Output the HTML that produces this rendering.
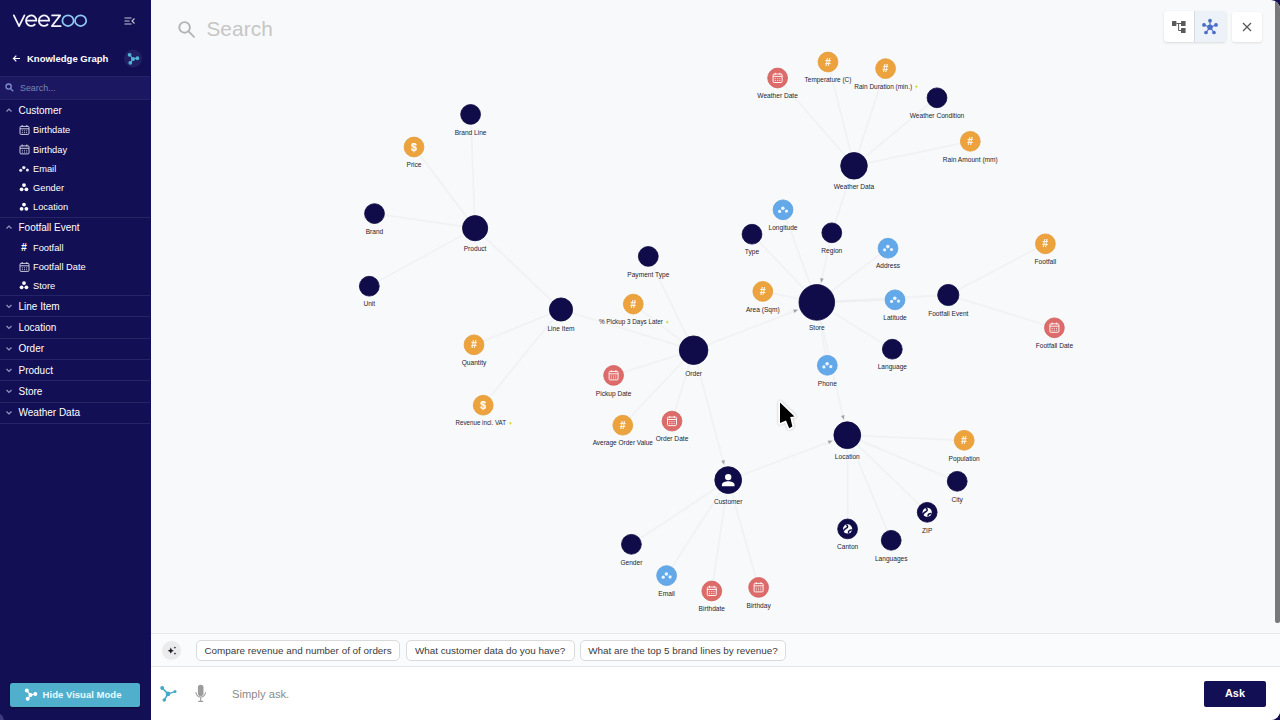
<!DOCTYPE html>
<html><head><meta charset="utf-8"><style>
*{box-sizing:border-box;margin:0;padding:0}
html,body{width:1280px;height:720px;overflow:hidden;background:#130f54;font-family:"Liberation Sans",sans-serif;}
#side{position:absolute;left:0;top:0;width:151px;height:720px;background:#130f54;color:#fff}
#main{position:absolute;left:151px;top:0;width:1129px;height:720px;background:#f8f9fb;border-radius:0 9px 9px 0;overflow:hidden}
.abs{position:absolute}
.grp{position:absolute;left:18.5px;font-size:10px;color:#fff;white-space:nowrap;line-height:12px}
.itm{position:absolute;left:33px;font-size:9.3px;color:#fff;white-space:nowrap;line-height:12px}
.div{position:absolute;left:0;width:150px;height:1px;background:#272466}
.chip{position:absolute;top:640px;height:21px;border:1px solid #d9dadd;border-radius:5px;background:#fff;font-size:9.9px;color:#3a3a3e;line-height:19.4px;text-align:center;white-space:nowrap}
svg{position:absolute;left:0;top:0;overflow:visible}
</style></head><body>
<div id="side">
<svg width="151" height="720"><g fill="none" stroke="#f4f4ff" stroke-width="1.75" stroke-linecap="round" stroke-linejoin="round"><path d="M13.8 15.3L19.1 26.1L24.4 15.3"/><path d="M26.1 20.7H36.4A5.2 5.3 0 1 0 34.8 24.5"/><path d="M38.9 20.7H49.2A5.2 5.3 0 1 0 47.6 24.5"/><path d="M52.1 15.4H60.2L51.9 26H60.7"/><g stroke="#8ec8f2"><ellipse cx="68" cy="20.7" rx="5.6" ry="5.35"/><ellipse cx="80.6" cy="20.7" rx="5.6" ry="5.35"/></g></g></svg>
<svg width="151" height="720"><g stroke="#c8c8dc" stroke-width="1.1" fill="none"><path d="M124.5 18h7M124.5 21h5M124.5 24h7"/><path d="M134.5 18.5l-2.5 2.5 2.5 2.5"/></g><g stroke="#fff" stroke-width="1.2" fill="none"><path d="M13.5 58.5h6.5M16.3 55.7l-2.8 2.8 2.8 2.8"/></g><circle cx="133" cy="58.5" r="9" fill="#221f63"/><g stroke="#4fb4d6" stroke-width="1.2" fill="#4fb4d6"><path d="M133 59l-3.2-4M133 59l-2.5 3.6M133 59l4.3-.8" fill="none"/><circle cx="133" cy="59" r="1.5"/><circle cx="129.6" cy="54.8" r="1.3"/><circle cx="130.3" cy="62.8" r="1.3"/><circle cx="137.4" cy="58.2" r="1.3"/></g></svg>
<div class="abs" style="left:27px;top:52px;font-size:9.5px;font-weight:bold;line-height:13px;color:#fff;white-space:nowrap">Knowledge Graph</div>
<div class="abs" style="left:0;top:76px;width:150px;height:24px;background:#1b1861;border-top:1px solid #262369;border-bottom:1px solid #262369"></div>
<svg width="151" height="720"><g stroke="#7f8fd0" stroke-width="1.3" fill="none"><circle cx="8.6" cy="86.6" r="2.6"/><path d="M10.6 88.6l2.6 2.6"/></g></svg>
<div class="abs" style="left:20px;top:82px;font-size:8.9px;line-height:12px;color:#8083b0">Search...</div>
<div class="grp" style="top:104.8px">Customer</div>
<div class="grp" style="top:221.8px">Footfall Event</div>
<div class="grp" style="top:300.8px">Line Item</div>
<div class="grp" style="top:321.8px">Location</div>
<div class="grp" style="top:343.3px">Order</div>
<div class="grp" style="top:364.8px">Product</div>
<div class="grp" style="top:385.8px">Store</div>
<div class="grp" style="top:407.3px">Weather Data</div>
<div class="itm" style="top:124px">Birthdate</div>
<div class="itm" style="top:143.5px">Birthday</div>
<div class="itm" style="top:163px">Email</div>
<div class="itm" style="top:181.5px">Gender</div>
<div class="itm" style="top:201px">Location</div>
<div class="itm" style="top:241.5px">Footfall</div>
<div class="itm" style="top:261px">Footfall Date</div>
<div class="itm" style="top:279.5px">Store</div>
<svg width="151" height="720"><path d="M6.5 111.5l2.5 -2.5 2.5 2.5" stroke="#9597be" stroke-width="1.2" fill="none"/><path d="M6.5 228.5l2.5 -2.5 2.5 2.5" stroke="#9597be" stroke-width="1.2" fill="none"/><path d="M6.5 305l2.5 2.5 2.5 -2.5" stroke="#9597be" stroke-width="1.2" fill="none"/><path d="M6.5 326l2.5 2.5 2.5 -2.5" stroke="#9597be" stroke-width="1.2" fill="none"/><path d="M6.5 347.5l2.5 2.5 2.5 -2.5" stroke="#9597be" stroke-width="1.2" fill="none"/><path d="M6.5 369l2.5 2.5 2.5 -2.5" stroke="#9597be" stroke-width="1.2" fill="none"/><path d="M6.5 390l2.5 2.5 2.5 -2.5" stroke="#9597be" stroke-width="1.2" fill="none"/><path d="M6.5 411.5l2.5 2.5 2.5 -2.5" stroke="#9597be" stroke-width="1.2" fill="none"/><g stroke="#dcdcec" stroke-width="0.9" fill="none"><rect x="20.0" y="126.4" width="9" height="8" rx="1"/><path d="M20.0 128.8h9M22.2 125v2M26.8 125v2"/><path d="M21.9 130.8h5.2M21.9 132.6h5.2" stroke-width="0.8" stroke-dasharray="1 1.1"/></g><g stroke="#dcdcec" stroke-width="0.9" fill="none"><rect x="20.0" y="145.9" width="9" height="8" rx="1"/><path d="M20.0 148.3h9M22.2 144.5v2M26.8 144.5v2"/><path d="M21.9 150.3h5.2M21.9 152.1h5.2" stroke-width="0.8" stroke-dasharray="1 1.1"/></g><g fill="#e8e8f4"><circle cx="20.7" cy="170.2" r="1.5"/><circle cx="23.8" cy="167.6" r="1.7"/><circle cx="27.4" cy="170" r="1.5"/></g><g fill="#fff"><circle cx="24" cy="185.1" r="1.9"/><circle cx="21.6" cy="189.3" r="1.9"/><circle cx="26.4" cy="189.3" r="1.9"/></g><g fill="#fff"><circle cx="24" cy="204.6" r="1.9"/><circle cx="21.6" cy="208.8" r="1.9"/><circle cx="26.4" cy="208.8" r="1.9"/></g><text x="20.9" y="251.1" font-size="10.2" font-weight="bold" font-style="italic" fill="#fff" font-family="Liberation Sans">#</text><g stroke="#dcdcec" stroke-width="0.9" fill="none"><rect x="20.0" y="263.4" width="9" height="8" rx="1"/><path d="M20.0 265.8h9M22.2 262v2M26.8 262v2"/><path d="M21.9 267.8h5.2M21.9 269.6h5.2" stroke-width="0.8" stroke-dasharray="1 1.1"/></g><g fill="#fff"><circle cx="24" cy="283.1" r="1.9"/><circle cx="21.6" cy="287.3" r="1.9"/><circle cx="26.4" cy="287.3" r="1.9"/></g></svg>
<div class="div" style="top:216.5px"></div>
<div class="div" style="top:295px"></div>
<div class="div" style="top:316.3px"></div>
<div class="div" style="top:337.6px"></div>
<div class="div" style="top:359px"></div>
<div class="div" style="top:380.3px"></div>
<div class="div" style="top:401.6px"></div>
<div class="div" style="top:422.8px"></div>
<div class="abs" style="left:-12px;top:713px;width:16px;height:16px;border-radius:8px;background:#3f3b7c"></div>
<div class="abs" style="left:10.4px;top:682.6px;width:129.6px;height:24.2px;background:#4fafcc;border-radius:2.5px;box-shadow:0 1px 2px rgba(0,0,0,.4)"></div>
<div class="abs" style="left:42.6px;top:688.5px;font-size:9.55px;font-weight:bold;line-height:12px;color:#e8fbff;white-space:nowrap">Hide Visual Mode</div>
<svg width="151" height="720"><g stroke="#fff" stroke-width="1.2" fill="#fff"><path d="M30.5 695l-3.5-4.2M30.5 695l-2.5 3.6M30.5 695l4.6-.9" fill="none"/><circle cx="30.5" cy="695" r="1.5"/><circle cx="26.8" cy="690.6" r="1.4"/><circle cx="27.7" cy="698.8" r="1.4"/><circle cx="35.3" cy="694" r="1.4"/></g></svg>
</div>
<div id="main">
<svg width="1129" height="720" style="font-family:'Liberation Sans',sans-serif"><g stroke="#cfd2da" stroke-opacity=".19" stroke-width="1.8" fill="none"><path d="M324.1 228.2L319.6 114.4"/><path d="M324.1 228.2L263 147"/><path d="M324.1 228.2L223.5 213.6"/><path d="M324.1 228.2L218.3 286.2"/><path d="M324.1 228.2L410 309.5"/><path d="M410 309.5L323 344.8"/><path d="M410 309.5L332.2 405.2"/><path d="M410 309.5L542.6 350.2"/><path d="M542.6 350.2L497.3 256.4"/><path d="M542.6 350.2L482.3 304.1"/><path d="M542.6 350.2L462.6 375.4"/><path d="M542.6 350.2L471.8 425.2"/><path d="M542.6 350.2L521 421.1"/><path d="M542.6 350.2L577.2 480.1"/><path d="M542.6 350.2L665.8 302.4"/><path d="M577.2 480.1L480.4 544.3"/><path d="M577.2 480.1L515.6 575.6"/><path d="M577.2 480.1L560.8 591"/><path d="M577.2 480.1L607.6 587.4"/><path d="M577.2 480.1L696.3 435.2"/><path d="M696.3 435.2L813.2 440.3"/><path d="M696.3 435.2L806.2 481.3"/><path d="M696.3 435.2L776.2 512.3"/><path d="M696.3 435.2L696.6 528.9"/><path d="M696.3 435.2L740.2 540.3"/><path d="M665.8 302.4L601 234.2"/><path d="M665.8 302.4L632 209.8"/><path d="M680.8 232.8L665.8 302.4"/><path d="M665.8 302.4L737 248.2"/><path d="M665.8 302.4L744 299.8"/><path d="M665.8 302.4L611.8 291.4"/><path d="M665.8 302.4L741.3 349.2"/><path d="M665.8 302.4L676.3 365.3"/><path d="M665.8 302.4L696.3 435.2"/><path d="M665.8 302.4L797.3 295"/><path d="M703 165.8L680.8 232.8"/><path d="M703 165.8L626.6 78"/><path d="M703 165.8L677 62"/><path d="M703 165.8L734.6 68.6"/><path d="M703 165.8L786 97.8"/><path d="M703 165.8L819.3 141.3"/><path d="M797.3 295L894.4 243.8"/><path d="M797.3 295L903.4 327.8"/></g><g fill="#a2a3a9"><path d="M573.1 464.8L570.3 461.0L573.7 460.1Z"/><path d="M647.0 309.7L643.5 313.0L642.2 309.6Z"/><path d="M681.5 440.8L678.0 444.0L676.8 440.6Z"/><path d="M670.1 282.7L669.2 278.0L672.7 278.7Z"/><path d="M692.8 419.8L690.0 415.9L693.5 415.1Z"/></g><circle cx="319.6" cy="114.4" r="9.9" fill="#100c49" stroke="#0c0940" stroke-width="0.8"/><text x="319.6" y="134.6" text-anchor="middle" font-size="6.6" fill="#25252f" stroke="#f8f9fb" stroke-width="1.6" paint-order="stroke" stroke-linejoin="round">Brand Line</text><circle cx="263" cy="147" r="9.9" fill="#eda33d" stroke="#e39a38" stroke-width="0.8"/><text x="263" y="150.7" text-anchor="middle" font-size="10.4" font-weight="bold" fill="#fff" stroke="#fff" stroke-width=".2" opacity=".97">$</text><text x="263" y="167.2" text-anchor="middle" font-size="6.6" fill="#25252f" stroke="#f8f9fb" stroke-width="1.6" paint-order="stroke" stroke-linejoin="round">Price</text><circle cx="223.5" cy="213.6" r="9.9" fill="#100c49" stroke="#0c0940" stroke-width="0.8"/><text x="223.5" y="233.8" text-anchor="middle" font-size="6.6" fill="#25252f" stroke="#f8f9fb" stroke-width="1.6" paint-order="stroke" stroke-linejoin="round">Brand</text><circle cx="324.1" cy="228.2" r="12.6" fill="#100c49" stroke="#0c0940" stroke-width="0.8"/><text x="324.1" y="251.1" text-anchor="middle" font-size="6.6" fill="#25252f" stroke="#f8f9fb" stroke-width="1.6" paint-order="stroke" stroke-linejoin="round">Product</text><circle cx="218.3" cy="286.2" r="9.9" fill="#100c49" stroke="#0c0940" stroke-width="0.8"/><text x="218.3" y="306.4" text-anchor="middle" font-size="6.6" fill="#25252f" stroke="#f8f9fb" stroke-width="1.6" paint-order="stroke" stroke-linejoin="round">Unit</text><circle cx="410" cy="309.5" r="11.6" fill="#100c49" stroke="#0c0940" stroke-width="0.8"/><text x="410" y="331.4" text-anchor="middle" font-size="6.6" fill="#25252f" stroke="#f8f9fb" stroke-width="1.6" paint-order="stroke" stroke-linejoin="round">Line Item</text><circle cx="323" cy="344.8" r="9.9" fill="#eda33d" stroke="#e39a38" stroke-width="0.8"/><text x="322.7" y="348.3" text-anchor="middle" font-size="10" font-weight="bold" font-style="italic" fill="#fff" stroke="#fff" stroke-width=".2" opacity=".86">#</text><text x="323" y="365.0" text-anchor="middle" font-size="6.6" fill="#25252f" stroke="#f8f9fb" stroke-width="1.6" paint-order="stroke" stroke-linejoin="round">Quantity</text><circle cx="332.2" cy="405.2" r="9.9" fill="#eda33d" stroke="#e39a38" stroke-width="0.8"/><text x="332.2" y="408.9" text-anchor="middle" font-size="10.4" font-weight="bold" fill="#fff" stroke="#fff" stroke-width=".2" opacity=".97">$</text><text x="329.8" y="425.4" text-anchor="middle" font-size="6.6" fill="#25252f" stroke="#f8f9fb" stroke-width="1.6" paint-order="stroke" stroke-linejoin="round" textLength="50.5" lengthAdjust="spacingAndGlyphs">Revenue incl. VAT</text><path d="M359.4 421.4l.6 1.2 1.2.6-1.2.6-.6 1.2-.6-1.2-1.2-.6 1.2-.6z" fill="#d3dc48"/><circle cx="497.3" cy="256.4" r="9.9" fill="#100c49" stroke="#0c0940" stroke-width="0.8"/><text x="497.3" y="276.6" text-anchor="middle" font-size="6.6" fill="#25252f" stroke="#f8f9fb" stroke-width="1.6" paint-order="stroke" stroke-linejoin="round">Payment Type</text><circle cx="482.3" cy="304.1" r="9.9" fill="#eda33d" stroke="#e39a38" stroke-width="0.8"/><text x="482.0" y="307.6" text-anchor="middle" font-size="10" font-weight="bold" font-style="italic" fill="#fff" stroke="#fff" stroke-width=".2" opacity=".86">#</text><text x="479.90000000000003" y="324.3" text-anchor="middle" font-size="6.6" fill="#25252f" stroke="#f8f9fb" stroke-width="1.6" paint-order="stroke" stroke-linejoin="round" textLength="64" lengthAdjust="spacingAndGlyphs">% Pickup 3 Days Later</text><path d="M516.2 320.3l.6 1.2 1.2.6-1.2.6-.6 1.2-.6-1.2-1.2-.6 1.2-.6z" fill="#d3dc48"/><circle cx="542.6" cy="350.2" r="14.299999999999999" fill="#100c49" stroke="#0c0940" stroke-width="0.8"/><text x="542.6" y="375.7" text-anchor="middle" font-size="6.6" fill="#25252f" stroke="#f8f9fb" stroke-width="1.6" paint-order="stroke" stroke-linejoin="round">Order</text><circle cx="462.6" cy="375.4" r="9.9" fill="#dc6b6a" stroke="#d06061" stroke-width="0.8"/><g stroke="#fff" stroke-width="0.9" fill="none"><rect x="458.1" y="371.4" width="9" height="8.5" rx="1"/><path d="M458.1 373.79999999999995h9M460.3 370.2v2M464.90000000000003 370.2v2"/><path d="M459.8 376.0h5.6M459.8 377.9h5.6" stroke-width="0.8" stroke-dasharray="1.1 1.1"/></g><text x="462.6" y="395.6" text-anchor="middle" font-size="6.6" fill="#25252f" stroke="#f8f9fb" stroke-width="1.6" paint-order="stroke" stroke-linejoin="round">Pickup Date</text><circle cx="471.8" cy="425.2" r="9.9" fill="#eda33d" stroke="#e39a38" stroke-width="0.8"/><text x="471.5" y="428.7" text-anchor="middle" font-size="10" font-weight="bold" font-style="italic" fill="#fff" stroke="#fff" stroke-width=".2" opacity=".86">#</text><text x="471.8" y="445.4" text-anchor="middle" font-size="6.6" fill="#25252f" stroke="#f8f9fb" stroke-width="1.6" paint-order="stroke" stroke-linejoin="round" textLength="60.3" lengthAdjust="spacingAndGlyphs">Average Order Value</text><circle cx="521" cy="421.1" r="9.9" fill="#dc6b6a" stroke="#d06061" stroke-width="0.8"/><g stroke="#fff" stroke-width="0.9" fill="none"><rect x="516.5" y="417.1" width="9" height="8.5" rx="1"/><path d="M516.5 419.5h9M518.7 415.90000000000003v2M523.3 415.90000000000003v2"/><path d="M518.2 421.70000000000005h5.6M518.2 423.6h5.6" stroke-width="0.8" stroke-dasharray="1.1 1.1"/></g><text x="521" y="441.3" text-anchor="middle" font-size="6.6" fill="#25252f" stroke="#f8f9fb" stroke-width="1.6" paint-order="stroke" stroke-linejoin="round">Order Date</text><circle cx="577.2" cy="480.1" r="13.4" fill="#100c49" stroke="#0c0940" stroke-width="0.8"/><g fill="#fff"><circle cx="577.2" cy="477.1" r="3.2"/><path d="M570.9000000000001 486.3v-1.6c0-2.3 4.2-3.4 6.3-3.4s6.3 1.1 6.3 3.4v1.6z"/></g><text x="577.2" y="503.8" text-anchor="middle" font-size="6.6" fill="#25252f" stroke="#f8f9fb" stroke-width="1.6" paint-order="stroke" stroke-linejoin="round">Customer</text><circle cx="480.4" cy="544.3" r="9.9" fill="#100c49" stroke="#0c0940" stroke-width="0.8"/><text x="480.4" y="564.5" text-anchor="middle" font-size="6.6" fill="#25252f" stroke="#f8f9fb" stroke-width="1.6" paint-order="stroke" stroke-linejoin="round">Gender</text><circle cx="515.6" cy="575.6" r="9.9" fill="#63a9ea" stroke="#589ee0" stroke-width="0.8"/><g fill="#fff" opacity=".88"><circle cx="512.2" cy="577.2" r="1.6"/><circle cx="515.4" cy="574.0" r="1.8"/><circle cx="519.1" cy="576.9" r="1.6"/></g><text x="515.6" y="595.8" text-anchor="middle" font-size="6.6" fill="#25252f" stroke="#f8f9fb" stroke-width="1.6" paint-order="stroke" stroke-linejoin="round">Email</text><circle cx="560.8" cy="591" r="9.9" fill="#dc6b6a" stroke="#d06061" stroke-width="0.8"/><g stroke="#fff" stroke-width="0.9" fill="none"><rect x="556.3" y="587" width="9" height="8.5" rx="1"/><path d="M556.3 589.4h9M558.5 585.8v2M563.0999999999999 585.8v2"/><path d="M558.0 591.6h5.6M558.0 593.5h5.6" stroke-width="0.8" stroke-dasharray="1.1 1.1"/></g><text x="560.8" y="611.2" text-anchor="middle" font-size="6.6" fill="#25252f" stroke="#f8f9fb" stroke-width="1.6" paint-order="stroke" stroke-linejoin="round">Birthdate</text><circle cx="607.6" cy="587.4" r="9.9" fill="#dc6b6a" stroke="#d06061" stroke-width="0.8"/><g stroke="#fff" stroke-width="0.9" fill="none"><rect x="603.1" y="583.4" width="9" height="8.5" rx="1"/><path d="M603.1 585.8h9M605.3000000000001 582.1999999999999v2M609.9 582.1999999999999v2"/><path d="M604.8000000000001 588.0h5.6M604.8000000000001 589.9h5.6" stroke-width="0.8" stroke-dasharray="1.1 1.1"/></g><text x="607.6" y="607.6" text-anchor="middle" font-size="6.6" fill="#25252f" stroke="#f8f9fb" stroke-width="1.6" paint-order="stroke" stroke-linejoin="round">Birthday</text><circle cx="696.3" cy="435.2" r="13.4" fill="#100c49" stroke="#0c0940" stroke-width="0.8"/><text x="696.3" y="458.9" text-anchor="middle" font-size="6.6" fill="#25252f" stroke="#f8f9fb" stroke-width="1.6" paint-order="stroke" stroke-linejoin="round">Location</text><circle cx="813.2" cy="440.3" r="9.9" fill="#eda33d" stroke="#e39a38" stroke-width="0.8"/><text x="812.9000000000001" y="443.8" text-anchor="middle" font-size="10" font-weight="bold" font-style="italic" fill="#fff" stroke="#fff" stroke-width=".2" opacity=".86">#</text><text x="813.2" y="460.5" text-anchor="middle" font-size="6.6" fill="#25252f" stroke="#f8f9fb" stroke-width="1.6" paint-order="stroke" stroke-linejoin="round">Population</text><circle cx="806.2" cy="481.3" r="9.9" fill="#100c49" stroke="#0c0940" stroke-width="0.8"/><text x="806.2" y="501.5" text-anchor="middle" font-size="6.6" fill="#25252f" stroke="#f8f9fb" stroke-width="1.6" paint-order="stroke" stroke-linejoin="round">City</text><circle cx="776.2" cy="512.3" r="9.9" fill="#100c49" stroke="#0c0940" stroke-width="0.8"/><circle cx="776.2" cy="512.3" r="4.6" fill="#fff"/><path d="M774.7 508.29999999999995c2 .6 2 2.4 .2 3.2c-1.6 .8-2.6 2-3 3.2M777.2 516.5c-.6-2 1-3.2 3.3-3" stroke="#100c49" stroke-width="1.5" fill="none"/><text x="776.2" y="532.5" text-anchor="middle" font-size="6.6" fill="#25252f" stroke="#f8f9fb" stroke-width="1.6" paint-order="stroke" stroke-linejoin="round">ZIP</text><circle cx="696.6" cy="528.9" r="9.9" fill="#100c49" stroke="#0c0940" stroke-width="0.8"/><circle cx="696.6" cy="528.9" r="4.6" fill="#fff"/><path d="M695.1 524.9c2 .6 2 2.4 .2 3.2c-1.6 .8-2.6 2-3 3.2M697.6 533.1c-.6-2 1-3.2 3.3-3" stroke="#100c49" stroke-width="1.5" fill="none"/><text x="696.6" y="549.1" text-anchor="middle" font-size="6.6" fill="#25252f" stroke="#f8f9fb" stroke-width="1.6" paint-order="stroke" stroke-linejoin="round">Canton</text><circle cx="740.2" cy="540.3" r="9.9" fill="#100c49" stroke="#0c0940" stroke-width="0.8"/><text x="740.2" y="560.5" text-anchor="middle" font-size="6.6" fill="#25252f" stroke="#f8f9fb" stroke-width="1.6" paint-order="stroke" stroke-linejoin="round">Languages</text><circle cx="665.8" cy="302.4" r="17.8" fill="#100c49" stroke="#0c0940" stroke-width="0.8"/><text x="665.8" y="329.9" text-anchor="middle" font-size="6.6" fill="#25252f" stroke="#f8f9fb" stroke-width="1.6" paint-order="stroke" stroke-linejoin="round">Store</text><circle cx="601" cy="234.2" r="9.9" fill="#100c49" stroke="#0c0940" stroke-width="0.8"/><text x="601" y="254.4" text-anchor="middle" font-size="6.6" fill="#25252f" stroke="#f8f9fb" stroke-width="1.6" paint-order="stroke" stroke-linejoin="round">Type</text><circle cx="632" cy="209.8" r="9.9" fill="#63a9ea" stroke="#589ee0" stroke-width="0.8"/><g fill="#fff" opacity=".88"><circle cx="628.6" cy="211.4" r="1.6"/><circle cx="631.8" cy="208.20000000000002" r="1.8"/><circle cx="635.5" cy="211.10000000000002" r="1.6"/></g><text x="632" y="230.0" text-anchor="middle" font-size="6.6" fill="#25252f" stroke="#f8f9fb" stroke-width="1.6" paint-order="stroke" stroke-linejoin="round">Longitude</text><circle cx="680.8" cy="232.8" r="9.9" fill="#100c49" stroke="#0c0940" stroke-width="0.8"/><text x="680.8" y="253.0" text-anchor="middle" font-size="6.6" fill="#25252f" stroke="#f8f9fb" stroke-width="1.6" paint-order="stroke" stroke-linejoin="round">Region</text><circle cx="737" cy="248.2" r="9.9" fill="#63a9ea" stroke="#589ee0" stroke-width="0.8"/><g fill="#fff" opacity=".88"><circle cx="733.6" cy="249.79999999999998" r="1.6"/><circle cx="736.8" cy="246.6" r="1.8"/><circle cx="740.5" cy="249.5" r="1.6"/></g><text x="737" y="268.4" text-anchor="middle" font-size="6.6" fill="#25252f" stroke="#f8f9fb" stroke-width="1.6" paint-order="stroke" stroke-linejoin="round">Address</text><circle cx="744" cy="299.8" r="9.9" fill="#63a9ea" stroke="#589ee0" stroke-width="0.8"/><g fill="#fff" opacity=".88"><circle cx="740.6" cy="301.40000000000003" r="1.6"/><circle cx="743.8" cy="298.2" r="1.8"/><circle cx="747.5" cy="301.1" r="1.6"/></g><text x="744" y="320.0" text-anchor="middle" font-size="6.6" fill="#25252f" stroke="#f8f9fb" stroke-width="1.6" paint-order="stroke" stroke-linejoin="round">Latitude</text><circle cx="611.8" cy="291.4" r="9.9" fill="#eda33d" stroke="#e39a38" stroke-width="0.8"/><text x="611.5" y="294.9" text-anchor="middle" font-size="10" font-weight="bold" font-style="italic" fill="#fff" stroke="#fff" stroke-width=".2" opacity=".86">#</text><text x="611.8" y="311.6" text-anchor="middle" font-size="6.6" fill="#25252f" stroke="#f8f9fb" stroke-width="1.6" paint-order="stroke" stroke-linejoin="round">Area (Sqm)</text><circle cx="741.3" cy="349.2" r="9.9" fill="#100c49" stroke="#0c0940" stroke-width="0.8"/><text x="741.3" y="369.4" text-anchor="middle" font-size="6.6" fill="#25252f" stroke="#f8f9fb" stroke-width="1.6" paint-order="stroke" stroke-linejoin="round">Language</text><circle cx="676.3" cy="365.3" r="9.9" fill="#63a9ea" stroke="#589ee0" stroke-width="0.8"/><g fill="#fff" opacity=".88"><circle cx="672.9" cy="366.90000000000003" r="1.6"/><circle cx="676.0999999999999" cy="363.7" r="1.8"/><circle cx="679.8" cy="366.6" r="1.6"/></g><text x="676.3" y="385.5" text-anchor="middle" font-size="6.6" fill="#25252f" stroke="#f8f9fb" stroke-width="1.6" paint-order="stroke" stroke-linejoin="round">Phone</text><circle cx="797.3" cy="295" r="10.6" fill="#100c49" stroke="#0c0940" stroke-width="0.8"/><text x="797.3" y="315.9" text-anchor="middle" font-size="6.6" fill="#25252f" stroke="#f8f9fb" stroke-width="1.6" paint-order="stroke" stroke-linejoin="round">Footfall Event</text><circle cx="894.4" cy="243.8" r="9.9" fill="#eda33d" stroke="#e39a38" stroke-width="0.8"/><text x="894.1" y="247.3" text-anchor="middle" font-size="10" font-weight="bold" font-style="italic" fill="#fff" stroke="#fff" stroke-width=".2" opacity=".86">#</text><text x="894.4" y="264.0" text-anchor="middle" font-size="6.6" fill="#25252f" stroke="#f8f9fb" stroke-width="1.6" paint-order="stroke" stroke-linejoin="round">Footfall</text><circle cx="903.4" cy="327.8" r="9.9" fill="#dc6b6a" stroke="#d06061" stroke-width="0.8"/><g stroke="#fff" stroke-width="0.9" fill="none"><rect x="898.9" y="323.8" width="9" height="8.5" rx="1"/><path d="M898.9 326.2h9M901.1 322.6v2M905.6999999999999 322.6v2"/><path d="M900.6 328.40000000000003h5.6M900.6 330.3h5.6" stroke-width="0.8" stroke-dasharray="1.1 1.1"/></g><text x="903.4" y="348.0" text-anchor="middle" font-size="6.6" fill="#25252f" stroke="#f8f9fb" stroke-width="1.6" paint-order="stroke" stroke-linejoin="round">Footfall Date</text><circle cx="703" cy="165.8" r="13.299999999999999" fill="#100c49" stroke="#0c0940" stroke-width="0.8"/><text x="703" y="189.4" text-anchor="middle" font-size="6.6" fill="#25252f" stroke="#f8f9fb" stroke-width="1.6" paint-order="stroke" stroke-linejoin="round">Weather Data</text><circle cx="626.6" cy="78" r="9.9" fill="#dc6b6a" stroke="#d06061" stroke-width="0.8"/><g stroke="#fff" stroke-width="0.9" fill="none"><rect x="622.1" y="74" width="9" height="8.5" rx="1"/><path d="M622.1 76.4h9M624.3000000000001 72.8v2M628.9 72.8v2"/><path d="M623.8000000000001 78.6h5.6M623.8000000000001 80.5h5.6" stroke-width="0.8" stroke-dasharray="1.1 1.1"/></g><text x="626.6" y="98.2" text-anchor="middle" font-size="6.6" fill="#25252f" stroke="#f8f9fb" stroke-width="1.6" paint-order="stroke" stroke-linejoin="round">Weather Date</text><circle cx="677" cy="62" r="9.9" fill="#eda33d" stroke="#e39a38" stroke-width="0.8"/><text x="676.7" y="65.5" text-anchor="middle" font-size="10" font-weight="bold" font-style="italic" fill="#fff" stroke="#fff" stroke-width=".2" opacity=".86">#</text><text x="677" y="82.2" text-anchor="middle" font-size="6.6" fill="#25252f" stroke="#f8f9fb" stroke-width="1.6" paint-order="stroke" stroke-linejoin="round" textLength="46.8" lengthAdjust="spacingAndGlyphs">Temperature (C)</text><circle cx="734.6" cy="68.6" r="9.9" fill="#eda33d" stroke="#e39a38" stroke-width="0.8"/><text x="734.3000000000001" y="72.1" text-anchor="middle" font-size="10" font-weight="bold" font-style="italic" fill="#fff" stroke="#fff" stroke-width=".2" opacity=".86">#</text><text x="732.2" y="88.8" text-anchor="middle" font-size="6.6" fill="#25252f" stroke="#f8f9fb" stroke-width="1.6" paint-order="stroke" stroke-linejoin="round" textLength="57.8" lengthAdjust="spacingAndGlyphs">Rain Duration (min.)</text><path d="M765.4 84.8l.6 1.2 1.2.6-1.2.6-.6 1.2-.6-1.2-1.2-.6 1.2-.6z" fill="#d3dc48"/><circle cx="786" cy="97.8" r="9.9" fill="#100c49" stroke="#0c0940" stroke-width="0.8"/><text x="786" y="118.0" text-anchor="middle" font-size="6.6" fill="#25252f" stroke="#f8f9fb" stroke-width="1.6" paint-order="stroke" stroke-linejoin="round">Weather Condition</text><circle cx="819.3" cy="141.3" r="9.9" fill="#eda33d" stroke="#e39a38" stroke-width="0.8"/><text x="819.0" y="144.8" text-anchor="middle" font-size="10" font-weight="bold" font-style="italic" fill="#fff" stroke="#fff" stroke-width=".2" opacity=".86">#</text><text x="819.3" y="161.5" text-anchor="middle" font-size="6.6" fill="#25252f" stroke="#f8f9fb" stroke-width="1.6" paint-order="stroke" stroke-linejoin="round">Rain Amount (mm)</text></svg>
<svg width="1129" height="720"><g stroke="#b4b4b4" stroke-width="1.9" fill="none"><circle cx="33.6" cy="27.4" r="5.3"/><path d="M37.6 31.4l5.4 5.4" stroke-linecap="round"/></g></svg>
<div class="abs" style="left:55.4px;top:16px;font-size:20.8px;line-height:26px;color:#c6c6c6;letter-spacing:0.1px">Search</div>
<div class="abs" style="left:1012.6px;top:11.3px;width:62px;height:31px;background:#fff;border-radius:3px;box-shadow:0 1px 2.5px rgba(0,0,0,.13)"></div>
<div class="abs" style="left:1043px;top:11.3px;width:31.6px;height:31px;background:#edf1f8;border-radius:0 3px 3px 0;border-left:1px solid #d8dbe2"></div>
<div class="abs" style="left:1080.8px;top:11.8px;width:30px;height:30px;background:#fff;border-radius:3px;box-shadow:0 1px 2.5px rgba(0,0,0,.11)"></div>
<svg width="1129" height="720"><g fill="#5a5a5a"><rect x="1021" y="21" width="4.4" height="5" rx=".6"/><rect x="1030" y="21" width="4.6" height="5" rx=".6"/><rect x="1030" y="28" width="4.6" height="5" rx=".6"/></g><path d="M1025.4 23.5h4.6M1027.6 23.5v7h2.4" stroke="#5a5a5a" stroke-width="1" fill="none"/><g stroke="#4a6fc6" stroke-width="1.1" fill="#4a6fc6"><path d="M1059 27.3l0 -6.6"/><path d="M1059 27.3l6 -2.4"/><path d="M1059 27.3l4 5.2"/><path d="M1059 27.3l-4 5.2"/><path d="M1059 27.3l-6 -2.4"/><circle cx="1059" cy="27.3" r="2.2"/><circle cx="1059" cy="20.700000000000003" r="1.3"/><circle cx="1065" cy="24.900000000000002" r="1.3"/><circle cx="1063" cy="32.5" r="1.3"/><circle cx="1055" cy="32.5" r="1.3"/><circle cx="1053" cy="24.900000000000002" r="1.3"/></g><path d="M1092 23l8 8M1100 23l-8 8" stroke="#555" stroke-width="1.2" fill="none"/></svg>
<div class="abs" style="left:1123.9px;top:1px;width:5.1px;height:621.6px;background:#79797b;border-radius:0 0 2px 2px"></div>
<div class="abs" style="left:0;top:633px;width:1129px;height:34px;background:#fafbfc;border-top:1px solid #e6e7ea;border-bottom:1px solid #e6e7ea"></div>
<div class="abs" style="left:0;top:667px;width:1129px;height:53px;background:#fff"></div>
<div class="abs" style="left:11px;top:640.8px;width:19px;height:19px;border-radius:10px;background:#ebebed"></div>
<svg width="1129" height="720"><g fill="#1c1c28"><path d="M19.8 647.6l.95 2.15 2.15.95-2.15.95-.95 2.15-.95-2.15-2.15-.95 2.15-.95z"/><path d="M23.9 646.4l.4.9.9.4-.9.4-.4.9-.4-.9-.9-.4.9-.4z"/><path d="M24 652.3l.4.9.9.4-.9.4-.4.9-.4-.9-.9-.4.9-.4z"/></g></svg>
<div class="chip" style="left:45px;width:204px">Compare revenue and number of of orders</div>
<div class="chip" style="left:254.6px;width:169.0px">What customer data do you have?</div>
<div class="chip" style="left:429px;width:206px">What are the top 5 brand lines by revenue?</div>
<svg width="1129" height="720"><g stroke="#45a9c6" stroke-width="1.5" fill="#45a9c6"><path d="M17 693.9L11.2 688M17 693.9L13.3 700M17 693.9L24 691.6" fill="none"/><circle cx="17" cy="693.9" r="2.3" stroke="none"/><circle cx="11.2" cy="688" r="2" stroke="none"/><circle cx="13.3" cy="700" r="1.8" stroke="none"/><circle cx="24" cy="691.6" r="1.5" stroke="none"/></g><g fill="#9c9c9c"><rect x="46.9" y="684.8" width="5.6" height="11.2" rx="2.8"/></g><path d="M44.9 692.2a4.8 4.8 0 0 0 9.6 0M49.7 697v4M47.3 701.4h4.8" stroke="#9c9c9c" stroke-width="1.1" fill="none"/></svg>
<div class="abs" style="left:81px;top:687px;font-size:11.2px;line-height:14px;color:#8a8a8a">Simply ask.</div>
<div class="abs" style="left:1053px;top:681px;width:62px;height:26px;background:#130f54;border-radius:2px;color:#fff;font-weight:bold;font-size:10.9px;line-height:24.6px;text-align:center">Ask</div>
<svg width="1129" height="720"><path d="M629 402.4L643.5 416.5L639.2 417L641.4 426.4L638.2 428.3L635 420.6L629 423Z" fill="#000" stroke="#fff" stroke-width="3.6" paint-order="stroke" stroke-linejoin="round" style="filter:drop-shadow(0 0.5px 1px rgba(0,0,0,.25))"/></svg>
</div>
</body></html>
